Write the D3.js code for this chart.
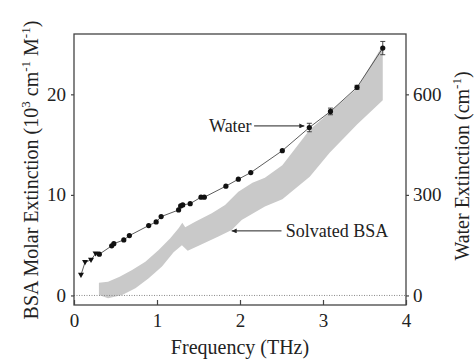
<!DOCTYPE html>
<html><head><meta charset="utf-8">
<script src="https://cdn.jsdelivr.net/npm/d3@7"></script>
<style>body{margin:0;background:#fff}svg{display:block}</style>
</head><body>
<script>
// Water extinction (left-axis units, 10^3 cm^-1 M^-1 equivalent; right axis = 30x)
const waterTriF = [0.084, 0.133, 0.205, 0.26];
const waterTriV = [2.04, 3.3, 3.53, 4.16];
const waterDotF = [0.305,0.454,0.48,0.60,0.667,0.90,0.99,1.05,1.26,1.285,1.31,1.40,1.53,1.57,1.83,1.98,2.13,2.51,2.835,3.09,3.41,3.72];
const waterDotV = [4.1,4.93,5.15,5.52,5.95,6.95,7.31,7.84,8.5,8.9,9.0,9.13,9.77,9.77,10.87,11.56,12.22,14.4,16.7,18.3,20.7,24.6];
const waterErr  = [0,0,0,0,0,0,0,0,0,0,0,0,0,0,0,0,0,0,0.42,0.33,0.2,0.66];
// Solvated BSA band edges
const bandUpF = [0.30,0.41,0.55,0.70,0.86,1.02,1.16,1.26,1.305,1.34,1.46,1.66,1.82,1.98,2.15,2.30,2.51,2.84,3.08,3.41,3.72];
const bandUpV = [1.27,1.37,1.87,2.54,3.36,4.53,5.69,6.69,7.24,6.79,7.34,8.18,9.0,10.3,11.2,11.7,12.95,16.47,18.2,20.6,24.9];
const bandLoF = [0.30,0.41,0.58,0.74,0.90,1.06,1.20,1.30,1.37,1.54,1.74,1.90,2.02,2.30,2.51,2.84,3.08,3.41,3.72];
const bandLoV = [0.05,-0.28,0.05,0.72,1.71,2.87,4.3,5.0,4.45,5.1,5.85,6.52,7.51,8.84,9.57,11.8,14.2,17.0,19.4];
const xTicks = [0,1,2,3,4];
const yTicks = [0,10,20];
const y2Ticks = [0,300,600];

const FONT = '"Liberation Serif","Times New Roman",serif';
const W = 474, H = 360;
const svg = d3.select("body").append("svg").attr("width", W).attr("height", H);
const x = d3.scaleLinear().domain([0,4]).range([74,406]);
const y = d3.scaleLinear().domain([-0.95,26.0]).range([305,34]);
const y2 = d3.scaleLinear().domain([-0.95*30,26.0*30]).range([305,34]);

const defs = svg.append("defs");
defs.append("marker").attr("id","arr").attr("viewBox","0 0 10 10").attr("refX",10).attr("refY",5)
  .attr("markerWidth",6).attr("markerHeight",5).attr("markerUnits","userSpaceOnUse").attr("orient","auto")
  .append("path").attr("d","M0,0L10,5L0,10Z").attr("fill","#222");

// band
const upPts = bandUpF.map((f,i)=>[f,bandUpV[i]]);
const loPts = bandLoF.map((f,i)=>[f,bandLoV[i]]).reverse();
svg.append("path").attr("d", d3.line().x(d=>x(d[0])).y(d=>y(d[1]))(upPts.concat(loPts)) + "Z")
  .attr("fill","#c9c9c9").attr("stroke","none");

// zero dotted line
svg.append("line").attr("x1",x(0)).attr("x2",x(4)).attr("y1",y(0)).attr("y2",y(0))
  .attr("stroke","#888").attr("stroke-width",1).attr("stroke-dasharray","1,1.5");

// water line
const allPts = waterTriF.map((f,i)=>[f,waterTriV[i]]).concat(waterDotF.map((f,i)=>[f,waterDotV[i]]));
svg.append("path").attr("d", d3.line().x(d=>x(d[0])).y(d=>y(d[1]))(allPts))
  .attr("fill","none").attr("stroke","#333").attr("stroke-width",0.8);

// error bars
waterDotF.forEach((f,i)=>{
  const e = waterErr[i]; if(!e) return;
  const cx = x(f), t = y(waterDotV[i]+e), b = y(waterDotV[i]-e);
  svg.append("line").attr("x1",cx).attr("x2",cx).attr("y1",t).attr("y2",b).attr("stroke","#333").attr("stroke-width",0.9);
  [t,b].forEach(yy=>svg.append("line").attr("x1",cx-2.5).attr("x2",cx+2.5).attr("y1",yy).attr("y2",yy).attr("stroke","#333").attr("stroke-width",0.9));
});

// points
svg.selectAll("circle.w").data(waterDotF).enter().append("circle")
  .attr("cx",d=>x(d)).attr("cy",(d,i)=>y(waterDotV[i])).attr("r",2.6).attr("fill","#111");
svg.selectAll("path.tri").data(waterTriF).enter().append("path")
  .attr("transform",(d,i)=>`translate(${x(d)},${y(waterTriV[i])})`)
  .attr("d","M-3,-2.2L3,-2.2L0,3Z").attr("fill","#111");

// frame
svg.append("rect").attr("x",x(0)).attr("y",y(26.0)).attr("width",x(4)-x(0)).attr("height",y(-0.95)-y(26.0))
  .attr("fill","none").attr("stroke","#444").attr("stroke-width",1.3);

// axes
function styleAxis(g){ g.select(".domain").remove(); g.attr("font-family",null).attr("font-size",null);
  g.selectAll("line").attr("stroke","#444").attr("stroke-width",1.2);
  g.selectAll("text").style("font-family",FONT).style("font-size","19px").attr("fill","#222"); }
svg.append("g").attr("transform",`translate(${x(0)},0)`)
  .call(d3.axisLeft(y).tickValues(yTicks).tickSize(3).tickPadding(5).tickFormat(d3.format("d"))).call(styleAxis);
svg.append("g").attr("transform",`translate(${x(4)},0)`)
  .call(d3.axisRight(y2).tickValues(y2Ticks).tickSize(3).tickPadding(4).tickFormat(d3.format("d"))).call(styleAxis);
svg.append("g").attr("transform",`translate(0,${y(-0.95)})`)
  .call(d3.axisBottom(x).tickValues(xTicks).tickSizeInner(-5).tickSizeOuter(0).tickPadding(9).tickFormat(d3.format("d"))).call(styleAxis);

function txt(sel, size){ return sel.style("font-family",FONT).style("font-size",size+"px").attr("fill","#222"); }

// axis titles
txt(svg.append("text"),20).attr("x",(x(0)+x(4))/2).attr("y",354).attr("text-anchor","middle").text("Frequency (THz)");
const lt = txt(svg.append("text"),20).attr("transform","translate(38,170) rotate(-90)").attr("text-anchor","middle");
lt.append("tspan").text("BSA Molar Extinction (10");
lt.append("tspan").style("font-size","13px").attr("dy",-8).text("3");
lt.append("tspan").attr("dy",8).text(" cm");
lt.append("tspan").style("font-size","13px").attr("dy",-8).text("-1");
lt.append("tspan").attr("dy",8).text(" M");
lt.append("tspan").style("font-size","13px").attr("dy",-8).text("-1");
lt.append("tspan").attr("dy",8).text(")");
const rt = txt(svg.append("text"),20).attr("transform","translate(469,166) rotate(-90)").attr("text-anchor","middle");
rt.append("tspan").text("Water Extinction (cm");
rt.append("tspan").style("font-size","13px").attr("dy",-8).text("-1");
rt.append("tspan").attr("dy",8).text(")");

// annotations
txt(svg.append("text"),18).attr("x",x(2.14)).attr("y",y(16.3)).attr("text-anchor","end").text("Water");
svg.append("line").attr("x1",x(2.17)).attr("x2",x(2.775)).attr("y1",y(16.86)).attr("y2",y(16.86))
  .attr("stroke","#222").attr("stroke-width",1).attr("marker-end","url(#arr)");
txt(svg.append("text"),18).attr("x",x(2.55)).attr("y",y(5.82)).text("Solvated BSA");
svg.append("line").attr("x1",x(2.5)).attr("x2",x(1.9)).attr("y1",y(6.42)).attr("y2",y(6.42))
  .attr("stroke","#222").attr("stroke-width",1).attr("marker-end","url(#arr)");
</script>
</body></html>
